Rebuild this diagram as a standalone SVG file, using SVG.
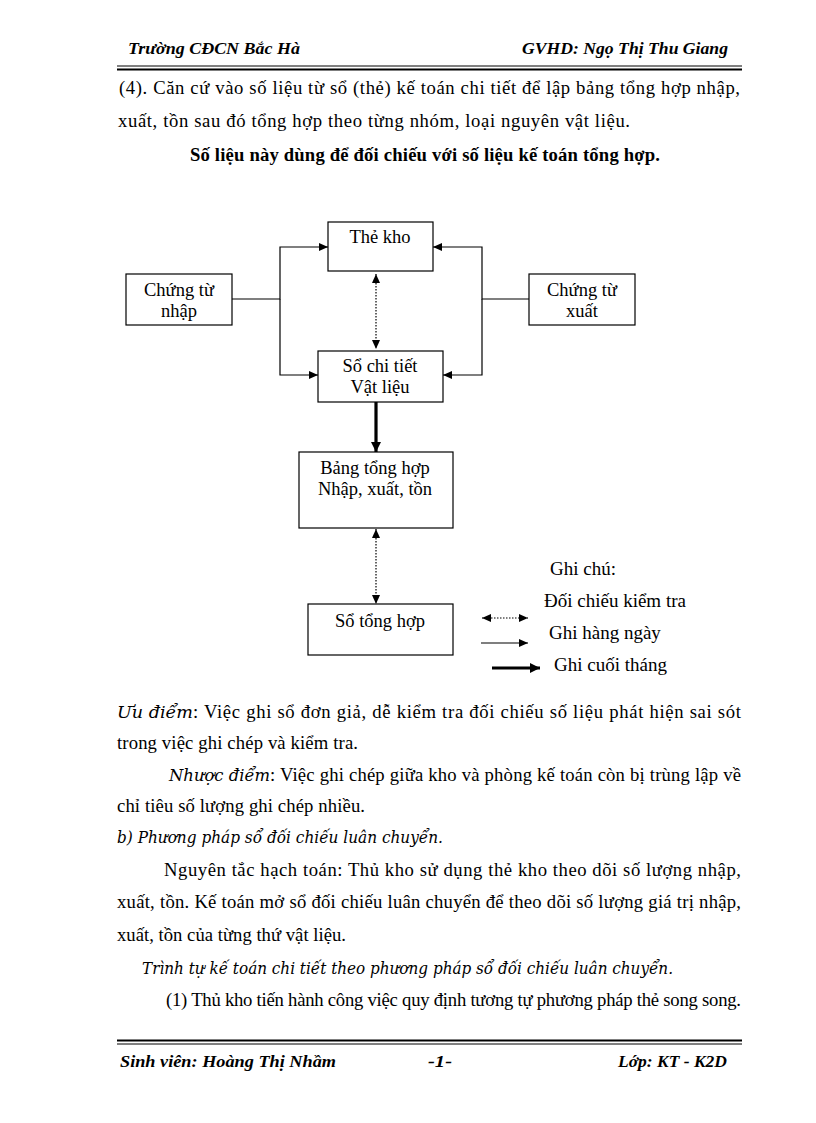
<svg xmlns="http://www.w3.org/2000/svg" width="816" height="1123" viewBox="0 0 816 1123">
<style>
.body{font-family:"Liberation Serif","Times New Roman",serif;font-size:18.67px;fill:#000}
.it{font-family:"DejaVu Serif","Liberation Serif",serif;font-style:italic;font-size:16.5px;fill:#000}
.hd{font-family:"Liberation Serif","Times New Roman",serif;font-style:italic;font-weight:bold;font-size:17px;fill:#000}
.bold{font-weight:bold}
.lbl{font-family:"Liberation Serif","Times New Roman",serif;font-size:18.5px;fill:#000;text-anchor:middle}
.leg{font-family:"Liberation Serif","Times New Roman",serif;font-size:19px;fill:#000}
.box{fill:#fff;stroke:#000;stroke-width:1.2}
.con{fill:none;stroke:#000;stroke-width:1.2}
.dot{fill:none;stroke:#000;stroke-width:1.2;stroke-dasharray:1.5 1.5}
.thick{fill:none;stroke:#000;stroke-width:3.2}
</style>
<defs>
<marker id="ah" markerUnits="userSpaceOnUse" markerWidth="9" markerHeight="8" refX="9" refY="4" orient="auto-start-reverse">
<path d="M0,0 L9,4 L0,8 z" fill="#000"/>
</marker>
<marker id="ahT" markerUnits="userSpaceOnUse" markerWidth="10" markerHeight="10" refX="10" refY="5" orient="auto">
<path d="M0,0 L10,5 L0,10 z" fill="#000"/>
</marker>
</defs>
<rect width="816" height="1123" fill="#fff"/>

<g id="header">
<text class="hd" x="128" y="54" textLength="172" lengthAdjust="spacingAndGlyphs">Trường CĐCN Bắc Hà</text>
<text class="hd" x="522" y="54" textLength="206" lengthAdjust="spacingAndGlyphs">GVHD: Ngọ Thị Thu Giang</text>
<line x1="117" y1="66" x2="742" y2="66" stroke="#000" stroke-width="1"/>
<line x1="117" y1="69.5" x2="742" y2="69.5" stroke="#000" stroke-width="2"/>
</g>

<g id="intro">
<text class="body" x="119" y="94" textLength="621" lengthAdjust="spacing">(4). Căn cứ vào số liệu từ sổ (thẻ) kế toán chi tiết để lập bảng tổng hợp nhập,</text>
<text class="body" x="118" y="127" textLength="512" lengthAdjust="spacing">xuất, tồn sau đó tổng hợp theo từng nhóm, loại nguyên vật liệu.</text>
<text class="body bold" x="425" y="161" text-anchor="middle" textLength="470" lengthAdjust="spacing">Số liệu này dùng để đối chiếu với số liệu kế toán tổng hợp.</text>
</g>

<g id="connectors">
<path class="con" d="M232,299 H280 V247 H328" marker-end="url(#ah)"/>
<path class="con" d="M280,299 V375 H318" marker-end="url(#ah)"/>
<path class="con" d="M529,299 H482 V247 H433" marker-end="url(#ah)"/>
<path class="con" d="M482,299 V375 H443" marker-end="url(#ah)"/>
<path class="dot" d="M376,274 V349" marker-start="url(#ah)" marker-end="url(#ah)"/>
<path class="thick" d="M376,402 V452" marker-end="url(#ahT)"/>
<path class="dot" d="M376,529 V604" marker-start="url(#ah)" marker-end="url(#ah)"/>
<path class="dot" d="M482,618 H528" marker-start="url(#ah)" marker-end="url(#ah)"/>
<path class="con" d="M481,643 H528" marker-end="url(#ah)"/>
<path class="thick" d="M492,668 H540" marker-end="url(#ahT)"/>
</g>

<g id="the-kho">
<rect class="box" x="328" y="222" width="105" height="49"/>
<text class="lbl" x="380" y="243">Thẻ kho</text>
</g>
<g id="chung-tu-nhap">
<rect class="box" x="126" y="274" width="106" height="51"/>
<text class="lbl" x="179" y="296">Chứng từ</text>
<text class="lbl" x="179" y="317">nhập</text>
</g>
<g id="chung-tu-xuat">
<rect class="box" x="529" y="274" width="106" height="51"/>
<text class="lbl" x="582" y="296">Chứng từ</text>
<text class="lbl" x="582" y="317">xuất</text>
</g>
<g id="so-chi-tiet">
<rect class="box" x="318" y="351" width="125" height="51"/>
<text class="lbl" x="380" y="372">Sổ chi tiết</text>
<text class="lbl" x="380" y="393">Vật liệu</text>
</g>
<g id="bang-tong-hop">
<rect class="box" x="299" y="452" width="154" height="76"/>
<text class="lbl" x="375" y="474">Bảng tổng hợp</text>
<text class="lbl" x="375" y="495">Nhập, xuất, tồn</text>
</g>
<g id="so-tong-hop">
<rect class="box" x="308" y="604" width="145" height="51"/>
<text class="lbl" x="380" y="627">Sổ tổng hợp</text>
</g>

<g id="legend">
<text class="leg" x="550" y="575">Ghi chú:</text>
<text class="leg" x="544" y="607">Đối chiếu kiểm tra</text>
<text class="leg" x="549" y="639">Ghi hàng ngày</text>
<text class="leg" x="554" y="671">Ghi cuối tháng</text>
</g>

<g id="body-text">
<text class="it" x="117" y="718" textLength="76" lengthAdjust="spacingAndGlyphs">Ưu điểm</text>
<text class="body" x="193" y="718" textLength="548" lengthAdjust="spacing">: Việc ghi sổ đơn giả, dễ kiểm tra đối chiếu số liệu phát hiện sai sót</text>
<text class="body" x="117" y="749" textLength="241" lengthAdjust="spacing">trong việc ghi chép và kiểm tra.</text>
<text class="it" x="169" y="781" textLength="101" lengthAdjust="spacingAndGlyphs">Nhược điểm</text>
<text class="body" x="270" y="781" textLength="471" lengthAdjust="spacing">: Việc ghi chép giữa kho và phòng kế toán còn bị trùng lập về</text>
<text class="body" x="117" y="812" textLength="248" lengthAdjust="spacing">chỉ tiêu số lượng ghi chép nhiều.</text>
<text class="it" x="117" y="843" textLength="326" lengthAdjust="spacingAndGlyphs">b) Phương pháp sổ đối chiếu luân chuyển.</text>
<text class="body" x="164" y="876" textLength="577" lengthAdjust="spacing">Nguyên tắc hạch toán: Thủ kho sử dụng thẻ kho theo dõi số lượng nhập,</text>
<text class="body" x="117" y="908" textLength="624" lengthAdjust="spacing">xuất, tồn. Kế toán mở sổ đối chiếu luân chuyển để theo dõi số lượng giá trị nhập,</text>
<text class="body" x="117" y="941" textLength="229" lengthAdjust="spacing">xuất, tồn của từng thứ vật liệu.</text>
<text class="it" x="142" y="974" textLength="531" lengthAdjust="spacingAndGlyphs">Trình tự kế toán chi tiết theo phương pháp sổ đối chiếu luân chuyển.</text>
<text class="body" x="166" y="1006" textLength="575" lengthAdjust="spacing">(1) Thủ kho tiến hành công việc quy định tương tự phương pháp thẻ song song.</text>
</g>

<g id="footer">
<line x1="117" y1="1040.5" x2="742" y2="1040.5" stroke="#000" stroke-width="2"/>
<line x1="117" y1="1044" x2="742" y2="1044" stroke="#000" stroke-width="1"/>
<text class="hd" x="120" y="1067" textLength="216" lengthAdjust="spacingAndGlyphs">Sinh viên: Hoàng Thị Nhầm</text>
<text class="hd" x="428" y="1067" textLength="24" lengthAdjust="spacingAndGlyphs">-1-</text>
<text class="hd" x="618" y="1067" textLength="109" lengthAdjust="spacingAndGlyphs">Lớp: KT - K2D</text>
</g>
</svg>
